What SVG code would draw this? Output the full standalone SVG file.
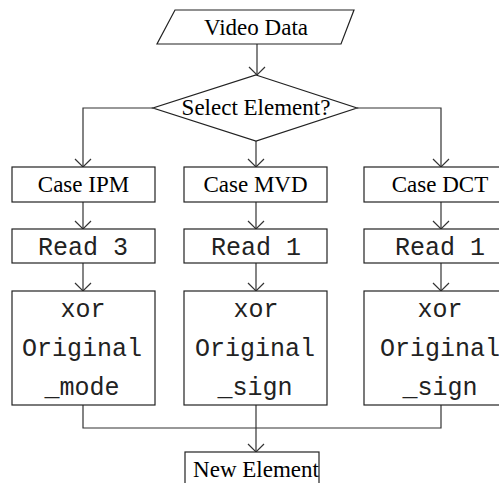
<svg xmlns="http://www.w3.org/2000/svg" width="499" height="483" viewBox="0 0 499 483">
<style>
.shape{fill:#fff;stroke:#222;stroke-width:1.2}
.conn{fill:none;stroke:#333;stroke-width:1.2}
.serif{font-family:"Liberation Serif","Times New Roman",serif;font-size:23px;fill:#000;text-anchor:middle}
.mono{font-family:"Liberation Mono","Courier New",monospace;font-size:25px;fill:#222;text-anchor:middle}
</style>
<defs>
<marker id="arr" viewBox="-10 -10 20 20" refX="0" refY="0" markerWidth="20" markerHeight="20" markerUnits="userSpaceOnUse" orient="auto" overflow="visible">
<path d="M-8,-8 L0,0 L-8,8" fill="none" stroke="#333" stroke-width="1.2"/>
</marker>
</defs>
<rect width="499" height="483" fill="#fff"/>
<g id="connectors">
<line class="conn" x1="257" y1="44" x2="257" y2="75" marker-end="url(#arr)"/>
<polyline class="conn" points="153,108 83,108 83,167" marker-end="url(#arr)"/>
<line class="conn" x1="256" y1="141" x2="256" y2="167" marker-end="url(#arr)"/>
<polyline class="conn" points="357,108 441,108 441,167" marker-end="url(#arr)"/>
<line class="conn" x1="83" y1="202" x2="83" y2="229" marker-end="url(#arr)"/>
<line class="conn" x1="256" y1="202" x2="256" y2="229" marker-end="url(#arr)"/>
<line class="conn" x1="441" y1="202" x2="441" y2="229" marker-end="url(#arr)"/>
<line class="conn" x1="83" y1="263" x2="83" y2="291" marker-end="url(#arr)"/>
<line class="conn" x1="256" y1="263" x2="256" y2="291" marker-end="url(#arr)"/>
<line class="conn" x1="441" y1="263" x2="441" y2="291" marker-end="url(#arr)"/>
<polyline class="conn" points="83,405 83,428 441,428 441,405"/>
<line class="conn" x1="256" y1="405" x2="256" y2="452" marker-end="url(#arr)"/>
</g>
<g id="video-data">
<polygon class="shape" points="175,10 354,10 341,44 157,44"/>
<text class="serif" x="256" y="35">Video Data</text>
</g>
<g id="select-element">
<polygon class="shape" points="256,75 357,108 256,141 153,108"/>
<text class="serif" x="256" y="115">Select Element?</text>
</g>
<g id="case-ipm">
<rect class="shape" x="12" y="167" width="143" height="35"/>
<text class="serif" x="83.5" y="192">Case IPM</text>
</g>
<g id="case-mvd">
<rect class="shape" x="184" y="167" width="143" height="35"/>
<text class="serif" x="255.5" y="192">Case MVD</text>
</g>
<g id="case-dct">
<rect class="shape" x="364" y="167" width="150" height="35"/>
<text class="serif" x="440" y="192">Case DCT</text>
</g>
<g id="read-3">
<rect class="shape" x="12" y="229" width="143" height="34"/>
<text class="mono" x="83" y="255">Read 3</text>
</g>
<g id="read-1-mvd">
<rect class="shape" x="184" y="229" width="143" height="34"/>
<text class="mono" x="256" y="255">Read 1</text>
</g>
<g id="read-1-dct">
<rect class="shape" x="364" y="229" width="150" height="34"/>
<text class="mono" x="440" y="255">Read 1</text>
</g>
<g id="xor-mode">
<rect class="shape" x="12" y="291" width="143" height="114"/>
<text class="mono" x="83" y="317">xor</text>
<text class="mono" x="82" y="356">Original</text>
<text class="mono" x="82" y="395">_mode</text>
</g>
<g id="xor-sign-mvd">
<rect class="shape" x="184" y="291" width="143" height="114"/>
<text class="mono" x="256" y="317">xor</text>
<text class="mono" x="255" y="356">Original</text>
<text class="mono" x="255" y="395">_sign</text>
</g>
<g id="xor-sign-dct">
<rect class="shape" x="364" y="291" width="150" height="114"/>
<text class="mono" x="440" y="317">xor</text>
<text class="mono" x="440" y="356">Original</text>
<text class="mono" x="440" y="395">_sign</text>
</g>
<g id="new-element">
<rect class="shape" x="185" y="452" width="134" height="40"/>
<text class="serif" x="256" y="477">New Element</text>
</g>
</svg>
